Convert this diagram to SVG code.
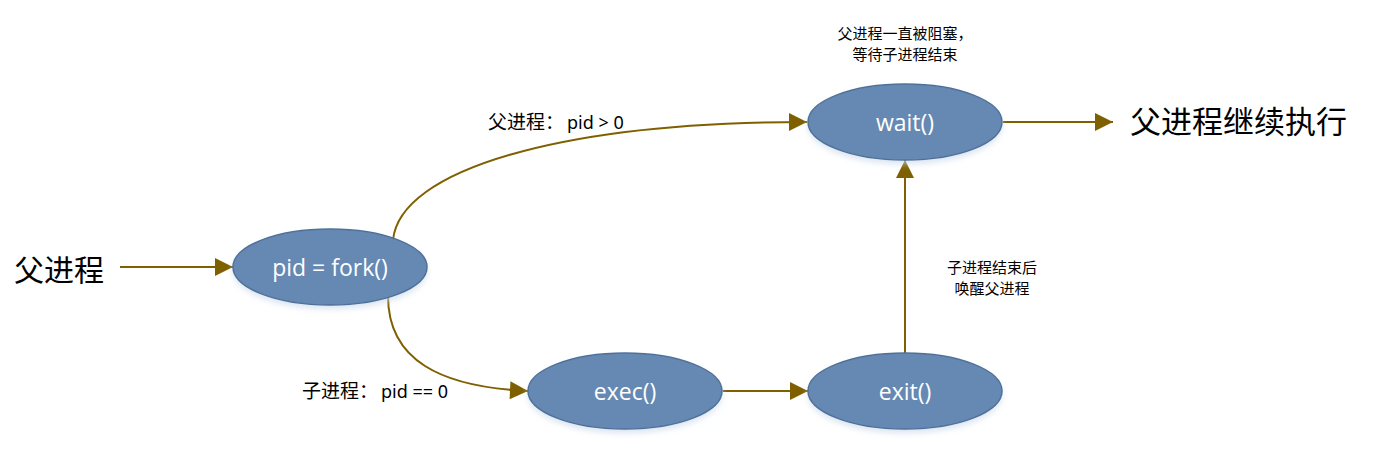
<svg xmlns="http://www.w3.org/2000/svg" width="1400" height="470" viewBox="0 0 1400 470">
<style>
.node{fill:#6589B3;stroke:#4F7099;stroke-width:1.5}
.shadow{fill:#C9D8EA;opacity:0.7}
.nl{fill:#ffffff;font-family:"Open Sans","Noto Sans",sans-serif;font-size:23px;text-anchor:middle;dominant-baseline:central}
.t{fill:#000;font-family:"Noto Sans","Noto Sans CJK SC",sans-serif}
.c{fill:none;stroke:#7F6000;stroke-width:2}
</style>
<defs>
<marker id="ah" viewBox="0 0 10 10" refX="10" refY="5" markerWidth="27" markerHeight="18" markerUnits="userSpaceOnUse" orient="auto">
<path d="M0,0 L10,5 L0,10 Z" fill="#7F6000"/>
</marker>
<filter id="blur" x="-20%" y="-20%" width="140%" height="140%"><feGaussianBlur stdDeviation="3"/></filter>
</defs>
<g id="connectors">
<path class="c" d="M120,267 L233,267" marker-end="url(#ah)"/>
<path class="c" d="M393,240 C 400,170 560,122 807,122" marker-end="url(#ah)"/>
<path class="c" d="M388,296 C 388,360 440,387 528,391" marker-end="url(#ah)"/>
<path class="c" d="M723,391 L808,391" marker-end="url(#ah)"/>
<path class="c" d="M905,353 L905,160" marker-end="url(#ah)"/>
<path class="c" d="M1003,122 L1113,122" marker-end="url(#ah)"/>
</g>
<g id="fork">
<ellipse class="shadow" cx="330" cy="271" rx="97" ry="38" filter="url(#blur)"/>
<ellipse class="node" cx="330" cy="267" rx="97" ry="38"/>
<text class="nl" x="330" y="267">pid = fork()</text>
</g>
<g id="wait">
<ellipse class="shadow" cx="905" cy="126" rx="97" ry="38" filter="url(#blur)"/>
<ellipse class="node" cx="905" cy="122" rx="97" ry="38"/>
<text class="nl" x="905" y="122">wait()</text>
</g>
<g id="exec">
<ellipse class="shadow" cx="625" cy="395" rx="97" ry="38" filter="url(#blur)"/>
<ellipse class="node" cx="625" cy="391" rx="97" ry="38"/>
<text class="nl" x="625" y="391">exec()</text>
</g>
<g id="exit">
<ellipse class="shadow" cx="905" cy="395" rx="97" ry="38" filter="url(#blur)"/>
<ellipse class="node" cx="905" cy="391" rx="97" ry="38"/>
<text class="nl" x="905" y="391">exit()</text>
</g>
<g id="labels">
<text class="t" x="14" y="281" font-size="30">父进程</text>
<text class="t" x="1130" y="133" font-size="31">父进程继续执行</text>
<text class="t" x="488" y="129" font-size="19">父进程：<tspan dx="3" font-size="18">pid &gt; 0</tspan></text>
<text class="t" x="302" y="398" font-size="19">子进程：<tspan dx="3" font-size="18">pid == 0</tspan></text>
<text class="t" x="905" y="39" font-size="15" text-anchor="middle">父进程一直被阻塞，</text>
<text class="t" x="905" y="60" font-size="15" text-anchor="middle">等待子进程结束</text>
<text class="t" x="992" y="273" font-size="15" text-anchor="middle">子进程结束后</text>
<text class="t" x="992" y="294" font-size="15" text-anchor="middle">唤醒父进程</text>
</g>
</svg>
